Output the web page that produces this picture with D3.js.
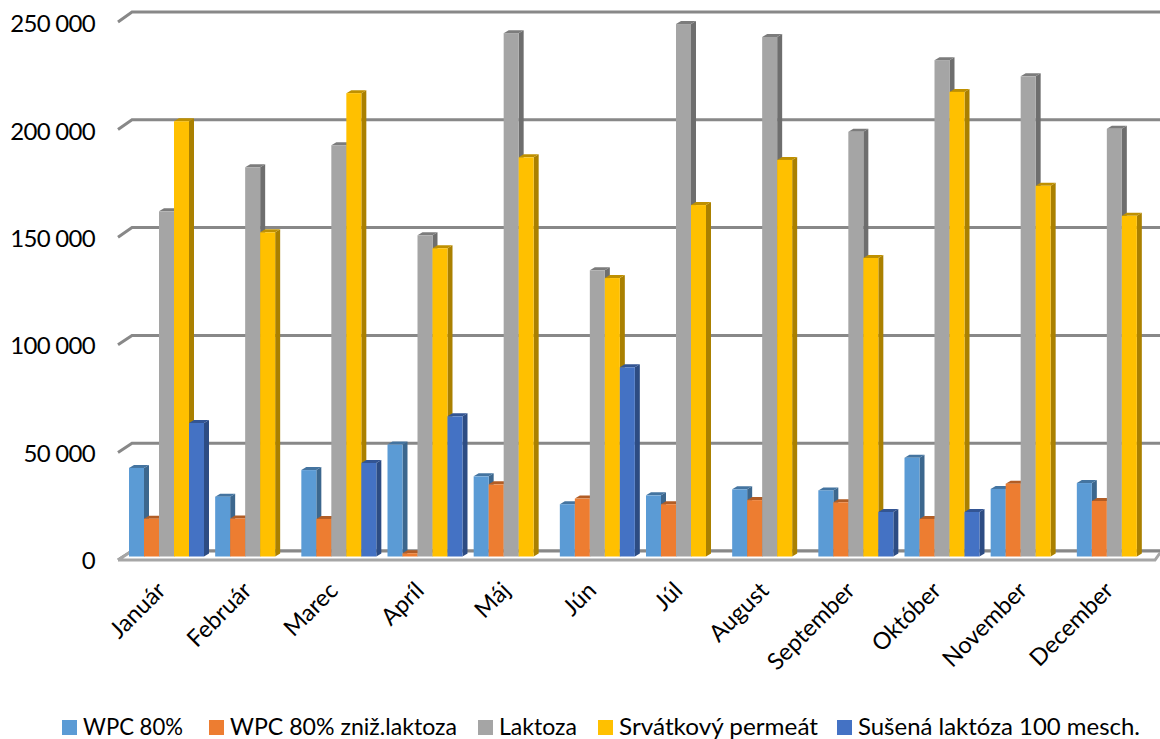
<!DOCTYPE html>
<html>
  <head>
    <meta charset="utf-8">
    <script src="https://d3js.org/d3.v7.min.js"></script>
    <title>WPC a laktoza</title>
    <style>
      html, body { margin: 0; padding: 0; background: #fff; }
      svg { display: block; }
      text { font-family: Lato, "Open Sans", sans-serif; fill: #000; }
    </style>
  </head>
  <body>

    <svg></svg>

    <script type="text/javascript">

      var months = ["Január", "Február", "Marec", "Apríl", "Máj", "Jún", "Júl", "August", "September", "Október", "November", "December"];
      var seriesNames = ["WPC 80%", "WPC 80% zniž.laktoza", "Laktoza", "Srvátkový permeát", "Sušená laktóza 100 mesch."];
      var yTicks = [0, 50000, 100000, 150000, 200000, 250000];

      var wpc80 = [41000, 27700, 40000, 51800, 37100, 24200, 28300, 31100, 30600, 45700, 31300, 34000];
      var wpc80Zniz = [17500, 17600, 17400, 1500, 33400, 26800, 24200, 26100, 25100, 17400, 33700, 25700];
      var laktoza = [159800, 180200, 190400, 148700, 242300, 132500, 246500, 240500, 196600, 229800, 222300, 198000];
      var permeat = [201500, 150100, 214500, 142700, 184800, 128900, 162700, 183600, 138200, 215100, 171600, 157700];
      var susena = [61800, null, 43300, 64900, null, 87600, null, null, 20600, 20600, null, null];

      var seriesValues = [wpc80, wpc80Zniz, laktoza, permeat, susena];
      var frontColors = ["#5b9bd5", "#ed7d31", "#a5a5a5", "#ffc000", "#4472c4"];
      var sideColors = ["#3c678e", "#9e5321", "#6e6e6e", "#aa8000", "#2d4c83"];
      var topColors = ["#4474a0", "#b25d25", "#7c7c7c", "#bf9000", "#335593"];

      var width = 1160, height = 739;
      var depthX = 5, depthY = 3;

      var svg = d3.select("svg")
                  .attr("width", width)
                  .attr("height", height);

      var x = d3.scaleBand().domain(months).range([107, 1141]);
      var xInner = d3.scaleBand().domain(d3.range(seriesNames.length)).range([22, 22 + 75]);
      var yBack = d3.scaleLinear().domain([0, 250000]).range([551, 12]);
      var ySide = d3.scaleLinear().domain([0, 250000]).range([560, 22]);
      var yBar = d3.scaleLinear().domain([0, 250000]).range([556.5, 16.5]);

      // walls
      svg.append("g").selectAll("path")
        .data(yTicks)
        .join("path")
        .attr("d", t => "M118," + ySide(t) + "L132," + yBack(t) + "L1160," + yBack(t))
        .attr("fill", "none")
        .attr("stroke", "#888888")
        .attr("stroke-width", 3);

      // floor
      svg.append("path")
        .attr("d", "M118,560L132,551L1160,551L1155,560Z")
        .attr("fill", "#fff");
      svg.append("path")
        .attr("d", "M132,551L1160,551")
        .attr("fill", "none")
        .attr("stroke", "#888888")
        .attr("stroke-width", 3);
      svg.append("path")
        .attr("d", "M118,560L132,551M118,560L1155,560L1160,553")
        .attr("fill", "none")
        .attr("stroke", "#a6a6a6")
        .attr("stroke-width", 3);

      // bars, left to right so each one covers the side of the one before
      var bars = [];
      months.forEach((m, i) => {
        seriesValues.forEach((values, s) => {
          if (values[i] !== null) bars.push({month: m, series: s, value: values[i]});
        });
      });

      var bar = svg.append("g").selectAll("g")
        .data(bars)
        .join("g")
        .attr("transform", d => "translate(" + (x(d.month) + xInner(d.series)) + ",0)");

      var w = xInner.bandwidth();

      bar.append("path")
        .attr("d", d => "M" + w + "," + yBar(d.value) + "l" + depthX + "," + (-depthY) + "V" + (yBar(0) - depthY) + "l" + (-depthX) + "," + depthY + "Z")
        .attr("fill", d => sideColors[d.series]);

      bar.append("path")
        .attr("d", d => "M0," + yBar(d.value) + "l" + depthX + "," + (-depthY) + "h" + w + "l" + (-depthX) + "," + depthY + "Z")
        .attr("fill", d => topColors[d.series]);

      bar.append("rect")
        .attr("width", w)
        .attr("y", d => yBar(d.value))
        .attr("height", d => yBar(0) - yBar(d.value))
        .attr("fill", d => frontColors[d.series]);

      // y axis labels
      var spaced = d3.formatLocale({decimal: ",", thousands: " ", grouping: [3], currency: ["", ""]}).format(",");
      var yLabels = d3.scaleLinear().domain([0, 250000]).range([561, 24]);
      var yAxis = svg.append("g")
        .attr("transform", "translate(95,0)")
        .call(d3.axisLeft(yLabels).tickValues(yTicks).tickFormat(spaced).tickSize(0).tickPadding(0));
      yAxis.select(".domain").remove();
      yAxis.selectAll("text")
        .style("font-family", "Lato, 'Open Sans', sans-serif")
        .style("font-size", "24px")
        .style("letter-spacing", "-0.7px");

      // month labels
      svg.append("g").selectAll("text")
        .data(months)
        .join("text")
        .attr("text-anchor", "end")
        .attr("transform", m => "translate(" + (x(m) + 60) + ",592) rotate(-45)")
        .style("font-size", "23.5px")
        .text(m => m);

      // legend
      var legendX = [62, 209, 478, 598, 837];
      var legendTextWidth = [100, 227, 78, 199, 282];
      var legend = svg.append("g").selectAll("g")
        .data(seriesNames)
        .join("g")
        .attr("transform", (n, i) => "translate(" + legendX[i] + ",720)");
      legend.append("rect")
        .attr("width", 15)
        .attr("height", 15)
        .attr("fill", (n, i) => frontColors[i]);
      legend.append("text")
        .attr("x", 21)
        .attr("y", 15)
        .attr("textLength", (n, i) => legendTextWidth[i])
        .attr("lengthAdjust", "spacingAndGlyphs")
        .style("font-size", "23px")
        .text(n => n);

    </script>
  </body>
</html>
